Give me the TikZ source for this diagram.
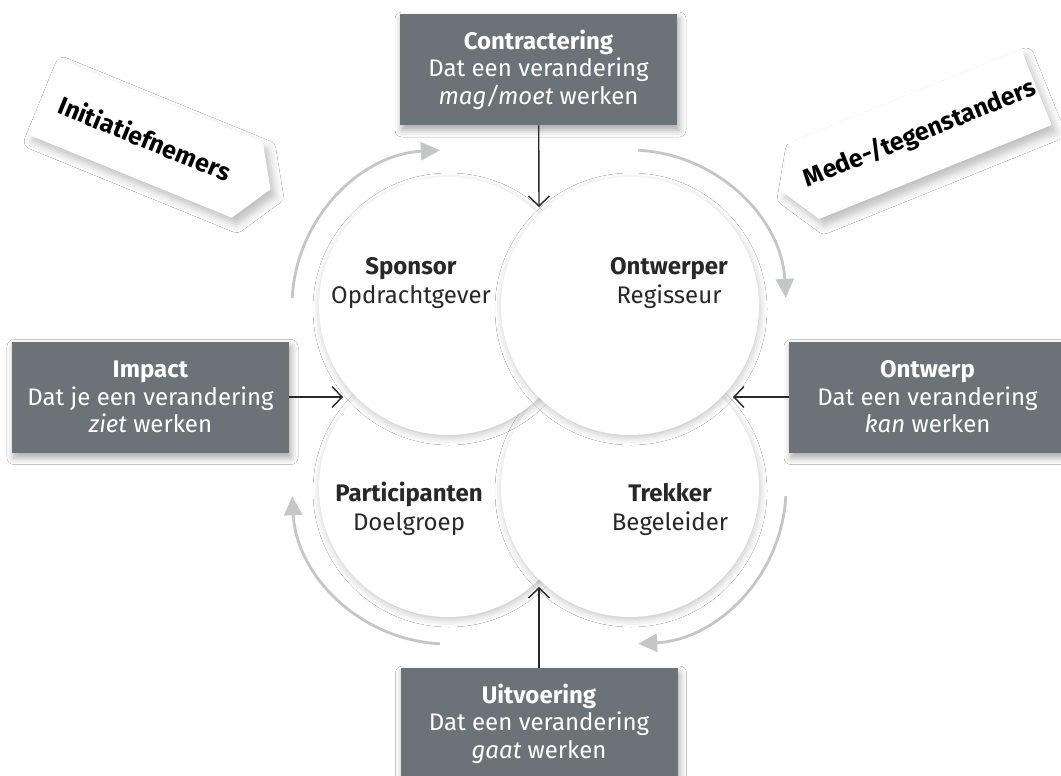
\documentclass[tikz,border=0pt]{standalone}
\usepackage{fontspec}
\setmainfont{Fira Sans}
\usepackage{tikz}
\usetikzlibrary{arrows.meta,shapes.symbols,shadows.blur}
\definecolor{boxgrey}{RGB}{107,115,121}
\definecolor{cyclegrey}{RGB}{196,198,200}
\definecolor{inkgrey}{RGB}{40,40,40}
\tikzset{
	stagebox/.style={fill=boxgrey, text=white, align=center, inner sep=0pt, minimum width=138.5pt, minimum height=55.5pt, font=\fontsize{12}{13.8}\selectfont, blur shadow={shadow xshift=1pt, shadow yshift=-2.5pt, shadow blur radius=3.5pt, shadow opacity=35}},
	rolecircle/.style={circle, fill=white, inner sep=0pt, minimum size=129pt, blur shadow={shadow xshift=0.5pt, shadow yshift=-1.5pt, shadow blur radius=3.5pt, shadow opacity=22}},
	rolelabel/.style={align=center, text=inkgrey, font=\fontsize{12}{14.5}\selectfont},
	tagbox/.style={signal, fill=white, text=black, inner sep=0pt, minimum height=41pt, signal pointer angle=117, font=\bfseries\fontsize{12.5}{14}\selectfont, blur shadow={shadow xshift=2.5pt, shadow yshift=-3.5pt, shadow blur radius=4pt, shadow opacity=25}},
	linkarrow/.style={draw=inkgrey, line width=0.7pt, -{Straight Barb[length=5pt,width=10.5pt]}},
	cyclearrow/.style={draw=cyclegrey, line width=1.4pt, -{Triangle[length=9.5pt,width=9pt]}},
}
\begin{document}
\begin{tikzpicture}[x=0.5pt, y=-0.5pt]
	\path[use as bounding box, clip] (0,0) rectangle (1061,776);
	\fill[white] (0,0) rectangle (1061,776);
	\coordinate (mid) at (539,397);
	\node[rolecircle] (cpart) at (448,488) {};
	\node[rolecircle] (ctrek) at (630,488) {};
	\node[rolecircle] (cspon) at (448,306) {};
	\node[rolecircle] (contw) at (630,306) {};
	\foreach \c/\s in {cspon/-177, contw/-87, ctrek/3, cpart/93}
		\draw[cyclearrow] ([shift={(\s:156)}]\c.center) arc[start angle=\s, end angle=\s+84, radius=156];
	\node[rolelabel] (lspon) at (411,283) {\textbf{Sponsor}\\Opdrachtgever};
	\node[rolelabel] (lontw) at (669,283) {\textbf{Ontwerper}\\Regisseur};
	\node[rolelabel] (lpart) at (409,509) {\textbf{Participanten}\\Doelgroep};
	\node[rolelabel] (ltrek) at (670,509) {\textbf{Trekker}\\Begeleider};
	\node[stagebox] (contract) at (538.5,69.5) {\textbf{Contractering}\\Dat een verandering\\\textit{mag/moet} werken};
	\node[stagebox] (impact) at (150.5,397) {\textbf{Impact}\\Dat je een verandering\\\textit{ziet} werken};
	\node[stagebox] (ontwerp) at (927.5,397) {\textbf{Ontwerp}\\Dat een verandering\\\textit{kan} werken};
	\node[stagebox] (uitvoer) at (539,723.5) {\textbf{Uitvoering}\\Dat een verandering\\\textit{gaat} werken};
	\coordinate (ptop) at (539,207);
	\coordinate (pleft) at (343,397);
	\coordinate (pright) at (733,397);
	\coordinate (pbottom) at (539,587);
	\draw[linkarrow] (contract) -- (ptop);
	\draw[linkarrow] (impact) -- (pleft);
	\draw[linkarrow] (ontwerp) -- (pright);
	\draw[linkarrow] (uitvoer) -- (pbottom);
	\node[tagbox, signal to=east, rotate=-22.2, minimum width=123pt] (initiators) at (145,138) {Initiatiefnemers};
	\node[tagbox, signal to=west, rotate=22, minimum width=138pt] (opponents) at (920,134) {Mede-/tegenstanders};
\end{tikzpicture}
\end{document}
